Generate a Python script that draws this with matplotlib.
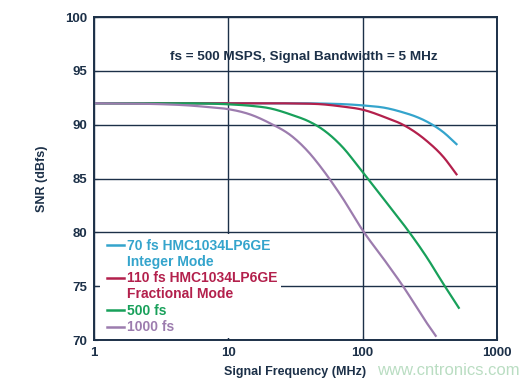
import numpy as np
import matplotlib
matplotlib.use("Agg")
import matplotlib.pyplot as plt
from matplotlib.patches import Rectangle

plt.rcParams['font.family'] = ['Liberation Sans', 'DejaVu Sans']

# data
freq_70 = [1, 2, 5, 10, 20, 30, 50, 70, 100, 150, 200, 250, 300, 400, 500]
snr_70 = [92, 92, 92, 92, 92, 92, 91.97, 91.92, 91.8, 91.55, 91.15, 90.75, 90.3, 89.3, 88.2]

freq_110 = [1, 2, 5, 10, 20, 30, 50, 70, 100, 150, 200, 300, 400, 500]
snr_110 = [92, 92, 92, 92, 92, 91.98, 91.9, 91.7, 91.4, 90.65, 90.0, 88.5, 87.0, 85.4]

freq_500 = [1, 2, 5, 10, 15, 20, 30, 40, 50, 70, 100, 150, 200, 300, 400, 520]
snr_500 = [92, 92, 92, 91.9, 91.75, 91.55, 90.9, 90.3, 89.6, 88.0, 85.6, 82.8, 80.8, 77.7, 75.2, 73.0]

freq_1000 = [1, 2, 3, 5, 7, 10, 15, 20, 30, 40, 50, 70, 100, 150, 200, 300, 350]
snr_1000 = [92, 91.97, 91.92, 91.8, 91.65, 91.45, 90.9, 90.2, 88.9, 87.4, 85.9, 83.3, 80.2, 77.2, 75.0, 71.6, 70.4]

labels = ["70 fs HMC1034LP6GE\nInteger Mode",
          "110 fs HMC1034LP6GE\nFractional Mode",
          "500 fs",
          "1000 fs"]
colors = ['#34a4cc', '#b3204c', '#18a05a', '#9c7cae']
navy = '#1c3048'

fig = plt.figure(figsize=(5.22, 3.80), dpi=100)
ax = fig.add_axes([0.180, 0.105, 0.772, 0.850])


def smooth(f, s):
    # cubic hermite through the read points, in log-frequency
    x = np.log10(f)
    y = np.asarray(s, float)
    m = np.gradient(y, x)
    xs = np.linspace(x[0], x[-1], 400)
    i = np.clip(np.searchsorted(x, xs) - 1, 0, len(x) - 2)
    h = x[i + 1] - x[i]
    t = (xs - x[i]) / h
    h00 = 2 * t**3 - 3 * t**2 + 1
    h10 = t**3 - 2 * t**2 + t
    h01 = -2 * t**3 + 3 * t**2
    h11 = t**3 - t**2
    ys = h00 * y[i] + h10 * h * m[i] + h01 * y[i + 1] + h11 * h * m[i + 1]
    return 10 ** xs, np.minimum(ys, 92)


for f, s, c in zip([freq_70, freq_110, freq_500, freq_1000],
                   [snr_70, snr_110, snr_500, snr_1000], colors):
    xx, yy = smooth(f, s)
    ax.plot(xx, yy, color=c, lw=1.6, zorder=3)

ax.set_xscale('log')
ax.set_xlim(1, 1000)
ax.set_ylim(70, 100)
ax.set_xticks([1, 10, 100, 1000])
ax.set_xticklabels(['1', '10', '100', '1000'])
ax.set_yticks([70, 75, 80, 85, 90, 95, 100])
ax.minorticks_off()
ax.grid(True, color=navy, lw=1.0, zorder=1)
ax.tick_params(length=3, direction='in', colors=navy, labelsize=9.5, pad=5)
for lbl in ax.get_xticklabels() + ax.get_yticklabels():
    lbl.set_fontweight('bold')
for sp in ax.spines.values():
    sp.set_color(navy)
    sp.set_linewidth(1.4)
    sp.set_zorder(6)

ax.set_xlabel('Signal Frequency (MHz)', fontsize=9, fontweight='bold', color=navy, labelpad=5)
ax.set_ylabel('SNR (dBfs)', fontsize=9, fontweight='bold', color=navy, labelpad=12)

ax.text(0.52, 0.876, 'fs = 500 MSPS, Signal Bandwidth = 5 MHz', transform=ax.transAxes,
        ha='center', va='center', fontsize=9.7, fontweight='bold', color=navy)

# legend: handle sits on the first line of each entry, like the original
ax.add_patch(Rectangle((0.015, 0.006), 0.45, 0.323, transform=ax.transAxes,
                       facecolor='white', edgecolor='none', zorder=4))
row_y = 0.294
step = 0.0505
for lab, c in zip(labels, colors):
    ax.plot([0.032, 0.074], [row_y, row_y], transform=ax.transAxes, color=c, lw=1.8, zorder=5)
    ax.text(0.082, row_y + 0.02, lab, transform=ax.transAxes, color=c, fontsize=10,
            fontweight='bold', va='top', ha='left', linespacing=1.18, zorder=5)
    row_y -= step * (lab.count('\n') + 1)

fig.text(0.995, 0.005, 'www.cntronics.com', fontsize=12, color='#8cc79a', alpha=0.6,
         ha='right', va='bottom')

fig.savefig('out.png', dpi=100)
